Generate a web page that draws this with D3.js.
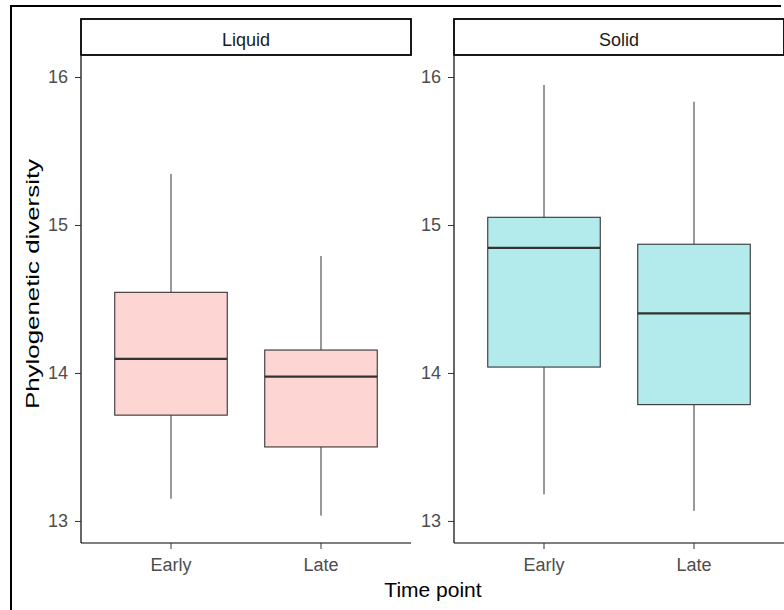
<!DOCTYPE html>
<html>
<head>
<meta charset="utf-8">
<script src="https://cdn.jsdelivr.net/npm/d3@7"></script>
<style>
  body { margin: 0; background: #fff; }
  text { font-family: Arial, "Liberation Sans", sans-serif; }
</style>
</head>
<body>
<div id="chart"></div>
<script>
// data
var panels = ["Liquid", "Solid"];
var timepoints = ["Early", "Late"];
var fills = ["#fdd6d3", "#b3ebec"];
// [min, q1, median, q3, max] per panel, per timepoint
var liquidStats = [[13.15, 13.715, 14.095, 14.545, 15.345], [13.036, 13.5, 13.975, 14.155, 14.79]];
var solidStats  = [[13.18, 14.04, 14.845, 15.052, 15.946], [13.068, 13.786, 14.403, 14.87, 15.833]];
var yTicks = [13, 14, 15, 16];
var yDomain = [12.851, 16.142];

var W = 784, H = 610;
var panelLeft = [81, 454], panelW = 330,
    panelTop = 56, panelBottom = 543,
    stripTop = 19;

var svg = d3.select("#chart").append("svg")
  .attr("width", W).attr("height", H);

// outer frame (cropped screenshot border)
svg.append("line").attr("x1", 11).attr("x2", 11).attr("y1", 5).attr("y2", H)
  .attr("stroke", "#000").attr("stroke-width", 2);
svg.append("line").attr("x1", 10).attr("x2", 781).attr("y1", 6).attr("y2", 6)
  .attr("stroke", "#000").attr("stroke-width", 2);

var y = d3.scaleLinear().domain(yDomain).range([panelBottom, panelTop]);

var allStats = [liquidStats, solidStats];

panels.forEach(function(name, p) {
  var g = svg.append("g").attr("transform", "translate(" + panelLeft[p] + ",0)");

  // discrete scale: centres at 1 and 2, range 0.4..2.6
  var x = d3.scaleBand().domain(timepoints).range([0, panelW]).paddingOuter(0.1).paddingInner(0);
  var boxW = x.bandwidth() * 0.75;

  // strip
  g.append("rect")
    .attr("x", 0).attr("y", stripTop)
    .attr("width", panelW).attr("height", panelTop - stripTop - 1)
    .attr("fill", "#fff").attr("stroke", "#000").attr("stroke-width", 1.8);
  g.append("text")
    .attr("x", panelW / 2).attr("y", 46)
    .attr("text-anchor", "middle")
    .style("font-size", "18px").style("fill", "#1a1a1a")
    .text(name);

  // boxes
  var stats = allStats[p];
  timepoints.forEach(function(t, i) {
    var s = stats[i], cx = x(t) + x.bandwidth() / 2;
    g.append("line").attr("x1", cx).attr("x2", cx)
      .attr("y1", y(s[0])).attr("y2", y(s[1]))
      .attr("stroke", "#333").attr("stroke-width", 1);
    g.append("line").attr("x1", cx).attr("x2", cx)
      .attr("y1", y(s[3])).attr("y2", y(s[4]))
      .attr("stroke", "#333").attr("stroke-width", 1);
    g.append("rect")
      .attr("x", cx - boxW / 2).attr("y", y(s[3]))
      .attr("width", boxW).attr("height", y(s[1]) - y(s[3]))
      .attr("fill", fills[p]).attr("stroke", "#333").attr("stroke-width", 1.1);
    g.append("line").attr("x1", cx - boxW / 2).attr("x2", cx + boxW / 2)
      .attr("y1", y(s[2])).attr("y2", y(s[2]))
      .attr("stroke", "#333").attr("stroke-width", 2.3);
  });

  // axes
  var yAxis = g.append("g").call(d3.axisLeft(y).tickValues(yTicks).tickSize(6).tickPadding(7).tickFormat(d3.format("d")));
  var xAxis = g.append("g").attr("transform", "translate(0," + panelBottom + ")")
    .call(d3.axisBottom(x).tickSize(6).tickPadding(9));
  [yAxis, xAxis].forEach(function(a) {
    a.attr("font-size", null).attr("font-family", null);
    a.select(".domain").attr("stroke", "#000").attr("stroke-width", 1.2);
    a.selectAll(".tick line").attr("stroke", "#333");
    a.selectAll(".tick text").style("font-size", "18px").style("fill", "#4d4d4d");
  });
  yAxis.select(".domain").attr("d", "M0," + panelTop + "V" + panelBottom);
  xAxis.select(".domain").attr("d", "M0,0H" + panelW);
});

// axis titles
svg.append("text")
  .attr("x", 433).attr("y", 597)
  .attr("text-anchor", "middle")
  .style("font-size", "21px").style("fill", "#000")
  .text("Time point");
svg.append("text")
  .attr("transform", "translate(39,284) rotate(-90)")
  .attr("text-anchor", "middle")
  .attr("textLength", 250).attr("lengthAdjust", "spacingAndGlyphs")
  .style("font-size", "18px").style("fill", "#000")
  .text("Phylogenetic diversity");
</script>
</body>
</html>
